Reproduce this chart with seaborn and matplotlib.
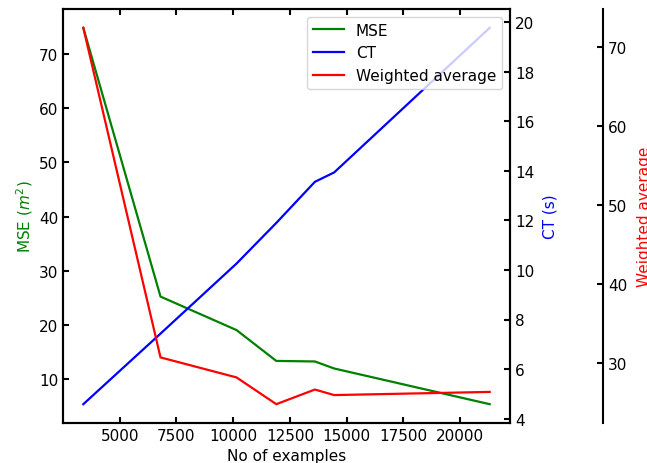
import matplotlib
matplotlib.use("Agg")
import matplotlib.pyplot as plt
import seaborn as sns
import pandas as pd

n_examples = [3400, 6800, 10150, 11900, 13600, 14450, 21300]
mse = [74.9, 25.2, 19.0, 13.3, 13.2, 11.9, 5.3]
ct = [4.58, 7.43, 10.26, 11.9, 13.56, 13.94, 19.78]
weighted = [72.4, 30.76, 28.23, 24.85, 26.7, 26.0, 26.4]

df = pd.DataFrame({"n": n_examples, "mse": mse, "ct": ct, "w": weighted})

plt.rcParams.update({
    "font.size": 11,
    "axes.linewidth": 1.5,
    "xtick.major.width": 1.5,
    "ytick.major.width": 1.5,
    "xtick.major.size": 4.5,
    "ytick.major.size": 4.5,
})

fig = plt.figure(figsize=(6.47, 4.64), dpi=100)
ax = fig.add_axes([63/647, 1-424/464, (510-63)/647, (424-10)/464])
ax2 = ax.twinx()
ax3 = ax.twinx()
ax3.spines["right"].set_position(("axes", 1 + 93/447))
for s in ["top", "bottom", "left"]:
    ax3.spines[s].set_visible(False)

sns.lineplot(data=df, x="n", y="mse", ax=ax, color="green", linewidth=1.6, label="MSE", legend=False)
sns.lineplot(data=df, x="n", y="ct", ax=ax2, color="blue", linewidth=1.6, label="CT", legend=False)
sns.lineplot(data=df, x="n", y="w", ax=ax3, color="red", linewidth=1.6, label="Weighted average", legend=False)

ax.set_xlabel("No of examples", fontsize=11)
ax.set_ylabel("MSE ($m^2$)", color="green", fontsize=11, labelpad=3)
ax2.set_ylabel("CT (s)", color="blue", fontsize=11, labelpad=6)
ax3.set_ylabel("Weighted average", color="red", fontsize=11, labelpad=7)
ax.set_xticks([5000, 7500, 10000, 12500, 15000, 17500, 20000])

ax.tick_params(direction="in", top=True, right=False, labelsize=11)
ax2.tick_params(direction="in", labelsize=11)
ax3.tick_params(direction="in", labelsize=11)

handles = ax.get_lines()[:1] + ax2.get_lines()[:1] + ax3.get_lines()[:1]
ax3.legend(handles, ["MSE", "CT", "Weighted average"], loc="upper right", fontsize=11)

fig.savefig("out.png", dpi=100)
